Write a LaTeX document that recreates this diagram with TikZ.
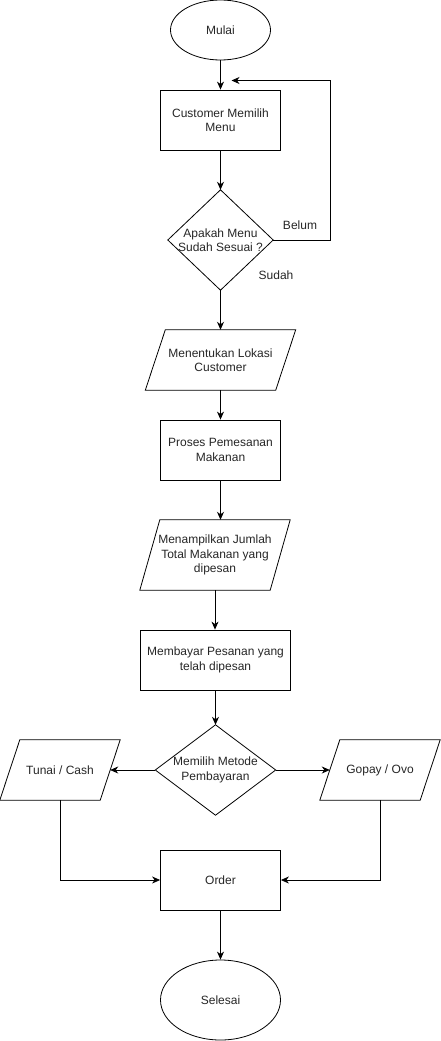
\documentclass[tikz,border=0pt]{standalone}
\usepackage{fontspec}
\setmainfont{Liberation Sans}
\usetikzlibrary{arrows.meta,shapes.geometric,calc}
\begin{document}
\begin{tikzpicture}[x=1pt,y=-1pt,
  every node/.style={font=\fontsize{12}{14.5}\selectfont, text=black!85, align=center, inner sep=0pt},
  proc/.style={draw, line width=0.8pt, minimum width=120, minimum height=60},
  term/.style={draw, line width=0.8pt, ellipse, minimum width=100, minimum height=60},
  decbox/.style={minimum width=105, minimum height=100},
  iorect/.style={minimum height=60},
  lbl/.style={font=\fontsize{12}{14}\selectfont},
  conn/.style={line width=0.8pt, -{Stealth[length=8pt,width=7pt,inset=2.5pt]}},
  line/.style={line width=0.8pt}]
\useasboundingbox (0,0) rectangle (441,1041);

\node[term] (mulai) at (220.5,30) {Mulai};
\node[proc] (pilih) at (220.5,120) {Customer Memilih\\Menu};
\node[decbox, minimum width=105, minimum height=100] (sesuai) at (220.5,240) {Apakah Menu\\Sudah Sesuai ?};
\node[iorect, minimum width=130] (lokasi) at (220.5,360) {Menentukan Lokasi\\Customer};
\node[proc] (proses) at (220.5,450) {Proses Pemesanan\\Makanan};
\node[iorect, minimum width=130, minimum height=70] (tampil) at (215,555) {Menampilkan Jumlah\\Total Makanan yang\\dipesan};
\node[proc, minimum width=150] (bayar) at (215.5,660) {Membayar Pesanan yang\\telah dipesan};
\node[decbox, minimum width=120, minimum height=90] (metode) at (215.5,770) {Memilih Metode\\Pembayaran};
\node[iorect, minimum width=100] (tunai) at (60,770) {Tunai / Cash};
\node[iorect, minimum width=100] (gopay) at (380,770) {Gopay / Ovo};
\node[proc] (order) at (220.5,880) {Order};
\node[term, minimum width=120, minimum height=80] (selesai) at (220.5,1000) {Selesai};

% diamonds
\foreach \n in {sesuai,metode}{
  \draw[line] (\n.north) -- (\n.east) -- (\n.south) -- (\n.west) -- cycle;
}
% parallelograms
\foreach \n/\s in {lokasi/10,tampil/10,tunai/10,gopay/10}{
  \draw[line] ($(\n.north west)+(\s,0)$) -- ($(\n.north east)+(\s,0)$) -- ($(\n.south east)+(-\s,0)$) -- ($(\n.south west)+(-\s,0)$) -- cycle;
}

\coordinate (loopin) at (231.5,80.5);
\coordinate (loopc) at (330,80.5);

\draw[conn] (mulai) -- (pilih);
\draw[conn] (pilih) -- (sesuai.north);
\draw[conn] (sesuai.east) -- (sesuai.east -| loopc) -- (loopc) -- (loopin);
\node[lbl] (belum) at (300,225.5) {Belum};
\node[lbl] (sudah) at (276,275) {Sudah};
\draw[conn] (sesuai.south) -- (lokasi.north);
\draw[conn] (lokasi.south) -- (proses.north);
\draw[conn] (proses.south) -- (proses.south |- tampil.north);
\draw[conn] (tampil.south) -- (tampil.south |- bayar.north);
\draw[conn] (bayar.south) -- (metode.north);
\draw[conn] (metode.west) -- (tunai.east);
\draw[conn] (metode.east) -- (gopay.west);
\draw[conn] (tunai.south) -- (tunai.south |- order.west) -- (order.west);
\draw[conn] (gopay.south) -- (gopay.south |- order.east) -- (order.east);
\draw[conn] (order) -- (selesai);
\end{tikzpicture}
\end{document}
